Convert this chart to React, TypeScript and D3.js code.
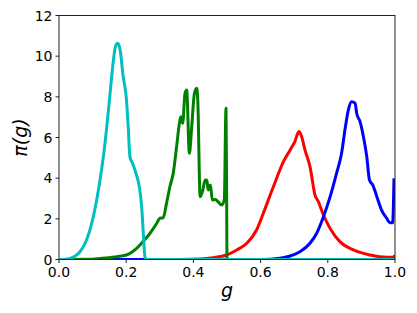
import React from "react";
import * as d3 from "d3";

const cyanG = [0, 0.003, 0.02, 0.033, 0.048, 0.0625, 0.082, 0.102, 0.122, 0.132, 0.142, 0.152, 0.162, 0.168, 0.175, 0.182, 0.191, 0.2, 0.206, 0.211, 0.219, 0.229, 0.239, 0.246, 0.251, 0.256, 0.26, 1.0];
const cyanV = [0, 0, 0.01, 0.05, 0.17, 0.38, 0.96, 2.1, 3.9, 5.06, 6.5, 8.17, 9.8, 10.47, 10.63, 10.3, 9.0, 8.0, 6.53, 5.06, 4.73, 4.24, 3.58, 2.6, 1.29, 0.1, 0, 0];

const greenG = [0, 0.1, 0.122, 0.172, 0.2, 0.231, 0.25, 0.271, 0.291, 0.3, 0.31, 0.32, 0.33, 0.34, 0.35, 0.36, 0.363, 0.368, 0.375, 0.38, 0.388, 0.395, 0.403, 0.41, 0.413, 0.42, 0.428, 0.435, 0.44, 0.444, 0.451, 0.456, 0.466, 0.474, 0.484, 0.492, 0.497, 0.499, 0.5, 1.0];
const greenV = [0, 0.01, 0.05, 0.14, 0.22, 0.55, 0.88, 1.29, 1.78, 2.03, 2.05, 2.76, 3.58, 4.24, 5.55, 6.86, 7.02, 6.7, 8.17, 8.34, 5.22, 6.53, 8.17, 8.42, 7.85, 3.09, 3.42, 3.91, 3.9, 3.42, 3.66, 2.93, 2.95, 2.83, 2.68, 2.93, 7.44, 3.0, 0, 0];

const redG = [0, 0.3, 0.42, 0.459, 0.499, 0.529, 0.559, 0.588, 0.608, 0.638, 0.668, 0.688, 0.702, 0.714, 0.722, 0.732, 0.747, 0.762, 0.772, 0.787, 0.807, 0.836, 0.876, 0.926, 0.975, 0.995, 1.0];
const redV = [0, 0.0, 0.03, 0.09, 0.22, 0.47, 0.8, 1.45, 2.27, 3.58, 4.81, 5.39, 5.8, 6.29, 6.05, 5.39, 4.57, 3.17, 2.84, 2.19, 1.53, 0.88, 0.47, 0.22, 0.11, 0.12, 0.2];

const blueG = [0, 0.6, 0.658, 0.688, 0.717, 0.747, 0.767, 0.787, 0.807, 0.826, 0.841, 0.851, 0.861, 0.871, 0.881, 0.886, 0.896, 0.906, 0.916, 0.924, 0.934, 0.946, 0.96, 0.975, 0.985, 0.993, 0.997];
const blueV = [0, 0, 0.06, 0.17, 0.38, 0.8, 1.29, 2.1, 3.09, 4.24, 5.22, 6.37, 7.35, 7.76, 7.7, 7.19, 6.78, 6.04, 5.06, 3.91, 3.66, 3.09, 2.43, 2.03, 1.81, 1.81, 4.0];

const xTicks = [0, 0.2, 0.4, 0.6, 0.8, 1.0];
const yTicks = [0, 2, 4, 6, 8, 10, 12];

const series = [
  { g: redG, v: redV, color: "#ff0000" },
  { g: blueG, v: blueV, color: "#0000ff" },
  { g: greenG, v: greenV, color: "#008000" },
  { g: cyanG, v: cyanV, color: "#00bfbf" },
];

export default function App() {
  const x = d3.scaleLinear().domain([0, 1]).range([59, 395]);
  const y = d3.scaleLinear().domain([0, 12]).range([259.5, 15.5]);
  const line = d3
    .line<[number, number]>()
    .x((d) => x(d[0]))
    .y((d) => y(d[1]))
    .curve(d3.curveMonotoneX);
  const font = "'DejaVu Sans', sans-serif";
  return (
    <svg
      width={417}
      height={313}
      style={{ position: "fixed", left: 0, top: 0, background: "#fff" }}
    >
      <defs>
        <clipPath id="clip">
          <rect x={59} y={15.5} width={336} height={244} />
        </clipPath>
      </defs>
      <g clipPath="url(#clip)">
        {series.map((s, i) => (
          <path
            key={i}
            d={line(s.g.map((g, j) => [g, s.v[j]] as [number, number])) || ""}
            fill="none"
            stroke={s.color}
            strokeWidth={3}
            strokeLinejoin="round"
            strokeLinecap="butt"
          />
        ))}
      </g>
      <rect x={59} y={15.5} width={336} height={244} fill="none" stroke="#222" strokeWidth={1} />
      {xTicks.map((t) => (
        <g key={t}>
          <line x1={x(t)} x2={x(t)} y1={259.5} y2={263} stroke="#222" />
          <text x={x(t)} y={277} fontSize={14} fontFamily={font} textAnchor="middle" fill="#000">
            {t.toFixed(1)}
          </text>
        </g>
      ))}
      {yTicks.map((t) => (
        <g key={t}>
          <line x1={55.5} x2={59} y1={y(t)} y2={y(t)} stroke="#222" />
          <text x={52.5} y={y(t) + 5} fontSize={14} fontFamily={font} textAnchor="end" fill="#000">
            {t}
          </text>
        </g>
      ))}
      <text x={227} y={297} fontSize={19} fontFamily={font} fontStyle="italic" textAnchor="middle">
        g
      </text>
      <text
        transform={`translate(27,${y(6)}) rotate(-90)`}
        fontSize={19}
        fontFamily={font}
        fontStyle="italic"
        textAnchor="middle"
      >
        π(g)
      </text>
    </svg>
  );
}
